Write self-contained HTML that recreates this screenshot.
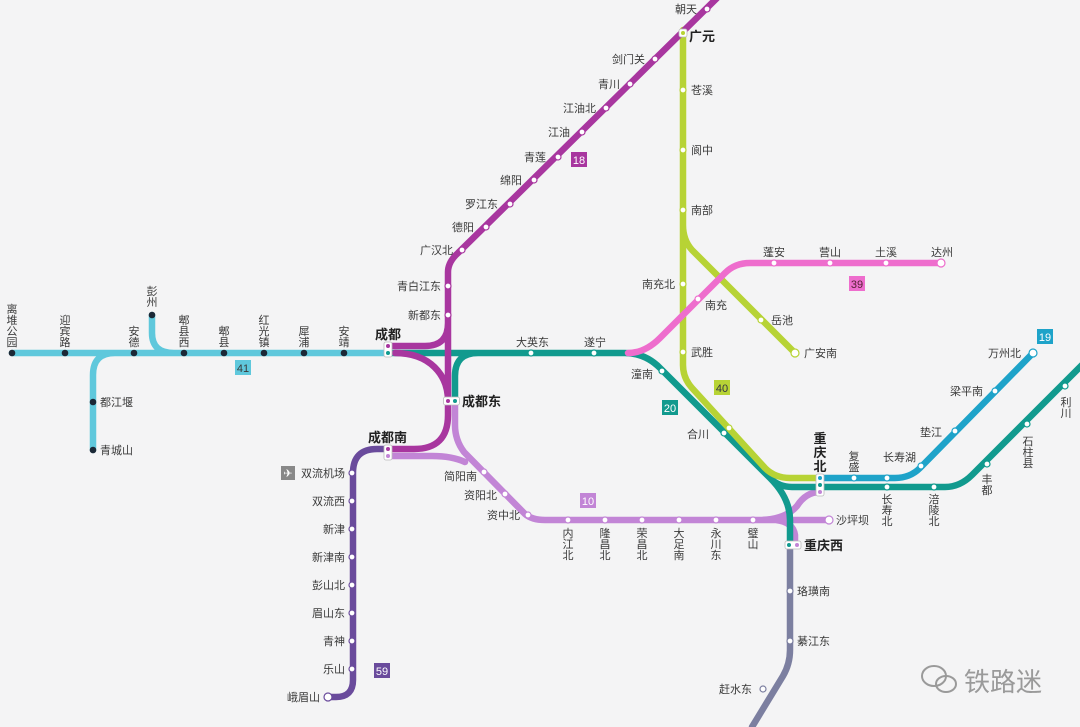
<!DOCTYPE html>
<html><head><meta charset="utf-8"><style>
html,body{margin:0;padding:0;background:#f4f4f5;}
svg{display:block;}
text{font-family:"Liberation Sans","Noto Sans CJK SC",sans-serif;font-size:11px;fill:#3a3a3a;}
.b{font-weight:bold;font-size:13px;fill:#222;}
.v{text-anchor:middle;}
.e{text-anchor:end;}
.n{font-size:11px;text-anchor:middle;}
</style></head><body>
<svg width="1080" height="727" viewBox="0 0 1080 727" xmlns="http://www.w3.org/2000/svg">
<rect width="1080" height="727" fill="#f4f4f5"/>
<g fill="none" stroke-width="6.5" stroke-linecap="round">
<path d="M12,353 H388 M115,353 Q93,353 93,375 V450 M152,315 V333 Q152,353 174,353" stroke="#5fc8dc"/>
<path d="M388,449 H377 Q353,449 353,473 V680 Q353,697 336,697 H328" stroke="#6a4b9c"/>
<path d="M790,545 V650 Q790,664 783,676 L752,727" stroke="#7c7fa0"/>
<path d="M455,401 V425 Q455,440 464,452 L525,514 Q532,520 545,520 H828 M388,456 H432 Q452,456 465,462 M758,520 Q785,520 797,506 Q806,492 820,492 M776,520 Q793,522 795,535 V545" stroke="#c285d6"/>
<path d="M388,353 H625 Q645,353 660,368 L770,478 Q779,487 792,487 H945 Q960,487 972,475 L1085,362 M770,478 Q790,498 790,520 V545 M455,401 V376 Q455,353 478,353" stroke="#119a8e"/>
<path d="M683,30 V365 Q683,378 692,388 L765,468 Q775,478 790,478 H820 M683,225 Q683,240 692,250 L795,353" stroke="#b7d335"/>
<path d="M628,353 Q645,353 660,338 L725,273 Q735,263 750,263 H940" stroke="#ee6dcd"/>
<path d="M820,478 H895 Q910,478 920,468 L1033,353" stroke="#1ea3c9"/>
<path d="M388,346 H425 Q448,346 448,323 V272 Q448,262 458,253 L717,-2 M448,272 V415 Q448,449 414,449 H388 M395,353 C430,353 448,375 448,401" stroke="#a8369f"/>
</g>
<g fill="#1b2836">
<circle cx="12" cy="353" r="3.3"/><circle cx="65" cy="353" r="3.3"/><circle cx="134" cy="353" r="3.3"/><circle cx="184" cy="353" r="3.3"/><circle cx="224" cy="353" r="3.3"/><circle cx="264" cy="353" r="3.3"/><circle cx="304" cy="353" r="3.3"/><circle cx="344" cy="353" r="3.3"/><circle cx="152" cy="315" r="3.3"/><circle cx="93" cy="402" r="3.3"/><circle cx="93" cy="450" r="3.3"/>
</g>
<g fill="#fff" stroke-width="1.2">
<g stroke="#a8369f"><circle cx="462" cy="250" r="3"/><circle cx="486" cy="227" r="3"/><circle cx="510" cy="204" r="3"/><circle cx="534" cy="180" r="3"/><circle cx="558" cy="157" r="3"/><circle cx="582" cy="132" r="3"/><circle cx="606" cy="108" r="3"/><circle cx="630" cy="84" r="3"/><circle cx="655" cy="59" r="3"/><circle cx="707" cy="9" r="3"/><circle cx="448" cy="286" r="3"/><circle cx="448" cy="315" r="3"/></g>
<g stroke="#b7d335"><circle cx="683" cy="90" r="3"/><circle cx="683" cy="150" r="3"/><circle cx="683" cy="210" r="3"/><circle cx="683" cy="284" r="3"/><circle cx="683" cy="352" r="3"/><circle cx="729" cy="428" r="3"/><circle cx="761" cy="320" r="3"/><circle cx="795" cy="353" r="4"/></g>
<g stroke="#ee6dcd"><circle cx="698" cy="299" r="3"/><circle cx="774" cy="263" r="3"/><circle cx="830" cy="263" r="3"/><circle cx="886" cy="263" r="3"/><circle cx="941" cy="263" r="4"/></g>
<g stroke="#119a8e"><circle cx="531" cy="353" r="3"/><circle cx="594" cy="353" r="3"/><circle cx="662" cy="371" r="3"/><circle cx="724" cy="433" r="3"/><circle cx="887" cy="487" r="3"/><circle cx="934" cy="487" r="3"/><circle cx="987" cy="464" r="3"/><circle cx="1027" cy="424" r="3"/><circle cx="1065" cy="386" r="3"/></g>
<g stroke="#1ea3c9"><circle cx="854" cy="478" r="3"/><circle cx="887" cy="478" r="3"/><circle cx="921" cy="466" r="3"/><circle cx="955" cy="431" r="3"/><circle cx="995" cy="391" r="3"/><circle cx="1033" cy="353" r="4"/></g>
<g stroke="#c285d6"><circle cx="484" cy="472" r="3"/><circle cx="505" cy="494" r="3"/><circle cx="528" cy="515" r="3"/><circle cx="568" cy="520" r="3"/><circle cx="605" cy="520" r="3"/><circle cx="642" cy="520" r="3"/><circle cx="679" cy="520" r="3"/><circle cx="716" cy="520" r="3"/><circle cx="753" cy="520" r="3"/><circle cx="829" cy="520" r="4"/></g>
<g stroke="#6a4b9c"><circle cx="352" cy="473" r="3"/><circle cx="352" cy="501" r="3"/><circle cx="352" cy="529" r="3"/><circle cx="352" cy="557" r="3"/><circle cx="352" cy="585" r="3"/><circle cx="352" cy="613" r="3"/><circle cx="352" cy="641" r="3"/><circle cx="352" cy="669" r="3"/><circle cx="328" cy="697" r="4"/></g>
<g stroke="#7c7fa0"><circle cx="790" cy="591" r="3"/><circle cx="790" cy="641" r="3"/><circle cx="763" cy="689" r="3"/></g>
</g>
<g fill="#fff" stroke="#bbb" stroke-width="0.8">
<rect x="384" y="342" width="8" height="15" rx="2"/>
<rect x="443.5" y="397" width="16" height="8" rx="2"/>
<rect x="384" y="445" width="8" height="15" rx="2"/>
<rect x="816" y="474" width="8" height="22" rx="2"/>
<rect x="785" y="541" width="16" height="8" rx="2"/>
<rect x="679" y="29" width="8" height="8" rx="2"/>
</g>
<circle cx="388" cy="346" r="2" fill="#a8369f"/><circle cx="388" cy="353" r="2" fill="#119a8e"/>
<circle cx="448" cy="401" r="2" fill="#a8369f"/><circle cx="455" cy="401" r="2" fill="#119a8e"/>
<circle cx="388" cy="449" r="2" fill="#a8369f"/><circle cx="388" cy="456" r="2" fill="#c285d6"/>
<circle cx="820" cy="478" r="2" fill="#1ea3c9"/><circle cx="820" cy="485" r="2" fill="#119a8e"/><circle cx="820" cy="492" r="2" fill="#c285d6"/>
<circle cx="789" cy="545" r="2" fill="#119a8e"/><circle cx="797" cy="545" r="2" fill="#c285d6"/>
<circle cx="683" cy="33" r="2" fill="#b7d335"/>
<rect x="235" y="360" width="16" height="15" fill="#5fc8dc"/><text x="243" y="372" class="n" fill="#245">41</text>
<rect x="571" y="152" width="16" height="15" fill="#a8369f"/><text x="579" y="164" class="n" style="fill:#fff">18</text>
<rect x="662" y="400" width="16" height="15" fill="#119a8e"/><text x="670" y="412" class="n" style="fill:#fff">20</text>
<rect x="714" y="380" width="16" height="15" fill="#b7d335"/><text x="722" y="392" class="n" style="fill:#334">40</text>
<rect x="849" y="276" width="16" height="15" fill="#ee6dcd"/><text x="857" y="288" class="n" style="fill:#523">39</text>
<rect x="1037" y="329" width="16" height="15" fill="#1ea3c9"/><text x="1045" y="341" class="n" style="fill:#fff">19</text>
<rect x="580" y="493" width="16" height="15" fill="#c285d6"/><text x="588" y="505" class="n" style="fill:#fff">10</text>
<rect x="374" y="663" width="16" height="15" fill="#6a4b9c"/><text x="382" y="675" class="n" style="fill:#fff">59</text>
<text x="375" y="339" class="b">成都</text>
<text x="462" y="406" class="b">成都东</text>
<text x="368" y="442" class="b">成都南</text>
<text x="689" y="41" class="b">广元</text>
<text x="804" y="550" class="b">重庆西</text>
<text class="b v"><tspan x="820" y="443">重</tspan><tspan x="820" y="457">庆</tspan><tspan x="820" y="471">北</tspan></text>
<g class="v">
<text class="v"><tspan x="12" y="313">离</tspan><tspan x="12" y="324">堆</tspan><tspan x="12" y="335">公</tspan><tspan x="12" y="346">园</tspan></text>
<text class="v"><tspan x="65" y="324">迎</tspan><tspan x="65" y="335">宾</tspan><tspan x="65" y="346">路</tspan></text>
<text class="v"><tspan x="134" y="335">安</tspan><tspan x="134" y="346">德</tspan></text>
<text class="v"><tspan x="152" y="295">彭</tspan><tspan x="152" y="306">州</tspan></text>
<text class="v"><tspan x="184" y="324">郫</tspan><tspan x="184" y="335">县</tspan><tspan x="184" y="346">西</tspan></text>
<text class="v"><tspan x="224" y="335">郫</tspan><tspan x="224" y="346">县</tspan></text>
<text class="v"><tspan x="264" y="324">红</tspan><tspan x="264" y="335">光</tspan><tspan x="264" y="346">镇</tspan></text>
<text class="v"><tspan x="304" y="335">犀</tspan><tspan x="304" y="346">浦</tspan></text>
<text class="v"><tspan x="344" y="335">安</tspan><tspan x="344" y="346">靖</tspan></text>
<text class="v"><tspan x="568" y="537">内</tspan><tspan x="568" y="548">江</tspan><tspan x="568" y="559">北</tspan></text>
<text class="v"><tspan x="605" y="537">隆</tspan><tspan x="605" y="548">昌</tspan><tspan x="605" y="559">北</tspan></text>
<text class="v"><tspan x="642" y="537">荣</tspan><tspan x="642" y="548">昌</tspan><tspan x="642" y="559">北</tspan></text>
<text class="v"><tspan x="679" y="537">大</tspan><tspan x="679" y="548">足</tspan><tspan x="679" y="559">南</tspan></text>
<text class="v"><tspan x="716" y="537">永</tspan><tspan x="716" y="548">川</tspan><tspan x="716" y="559">东</tspan></text>
<text class="v"><tspan x="753" y="537">璧</tspan><tspan x="753" y="548">山</tspan></text>
<text class="v"><tspan x="854" y="460">复</tspan><tspan x="854" y="471">盛</tspan></text>
<text class="v"><tspan x="887" y="503">长</tspan><tspan x="887" y="514">寿</tspan><tspan x="887" y="525">北</tspan></text>
<text class="v"><tspan x="934" y="503">涪</tspan><tspan x="934" y="514">陵</tspan><tspan x="934" y="525">北</tspan></text>
<text class="v"><tspan x="987" y="483">丰</tspan><tspan x="987" y="494">都</tspan></text>
<text class="v"><tspan x="1028" y="445">石</tspan><tspan x="1028" y="456">柱</tspan><tspan x="1028" y="467">县</tspan></text>
<text class="v"><tspan x="1066" y="406">利</tspan><tspan x="1066" y="417">川</tspan></text>
</g>
<text x="100" y="406">都江堰</text>
<text x="100" y="454">青城山</text>
<text class="e" x="697" y="13">朝天</text>
<text class="e" x="645" y="63">剑门关</text>
<text class="e" x="620" y="88">青川</text>
<text class="e" x="596" y="112">江油北</text>
<text class="e" x="570" y="136">江油</text>
<text class="e" x="546" y="161">青莲</text>
<text class="e" x="522" y="184">绵阳</text>
<text class="e" x="498" y="208">罗江东</text>
<text class="e" x="474" y="231">德阳</text>
<text class="e" x="453" y="254">广汉北</text>
<text class="e" x="441" y="290">青白江东</text>
<text class="e" x="441" y="319">新都东</text>
<text x="516" y="346">大英东</text>
<text x="584" y="346">遂宁</text>
<text class="e" x="653" y="378">潼南</text>
<text class="e" x="709" y="438">合川</text>
<text x="691" y="94">苍溪</text>
<text x="691" y="154">阆中</text>
<text x="691" y="214">南部</text>
<text class="e" x="675" y="288">南充北</text>
<text x="705" y="309">南充</text>
<text x="771" y="324">岳池</text>
<text x="804" y="357">广安南</text>
<text x="691" y="356">武胜</text>
<text x="763" y="256">蓬安</text>
<text x="819" y="256">营山</text>
<text x="875" y="256">土溪</text>
<text x="931" y="256">达州</text>
<text x="883" y="461">长寿湖</text>
<text class="e" x="942" y="436">垫江</text>
<text class="e" x="983" y="395">梁平南</text>
<text class="e" x="1021" y="357">万州北</text>
<text x="836" y="524">沙坪坝</text>
<text class="e" x="477" y="480">简阳南</text>
<text class="e" x="497" y="499">资阳北</text>
<text class="e" x="520" y="519">资中北</text>
<text class="e" x="345" y="477">双流机场</text>
<text class="e" x="345" y="505">双流西</text>
<text class="e" x="345" y="533">新津</text>
<text class="e" x="345" y="561">新津南</text>
<text class="e" x="345" y="589">彭山北</text>
<text class="e" x="345" y="617">眉山东</text>
<text class="e" x="345" y="645">青神</text>
<text class="e" x="345" y="673">乐山</text>
<text class="e" x="320" y="701">峨眉山</text>
<text x="797" y="595">珞璜南</text>
<text x="797" y="645">綦江东</text>
<text class="e" x="752" y="693">赶水东</text>
<rect x="281" y="466" width="14" height="14" fill="#888"/>
<text x="288" y="477" class="n" style="fill:#fff;font-size:11px;font-family:'DejaVu Sans',sans-serif">✈</text>
<g fill="none" stroke="#9a9a9a" stroke-width="2">
<ellipse cx="934" cy="676" rx="12" ry="10"/><ellipse cx="946" cy="684" rx="10" ry="8"/>
</g>
<text x="964" y="691" style="font-size:26px;fill:#9a9a9a">铁路迷</text>
</svg>
</body></html>
